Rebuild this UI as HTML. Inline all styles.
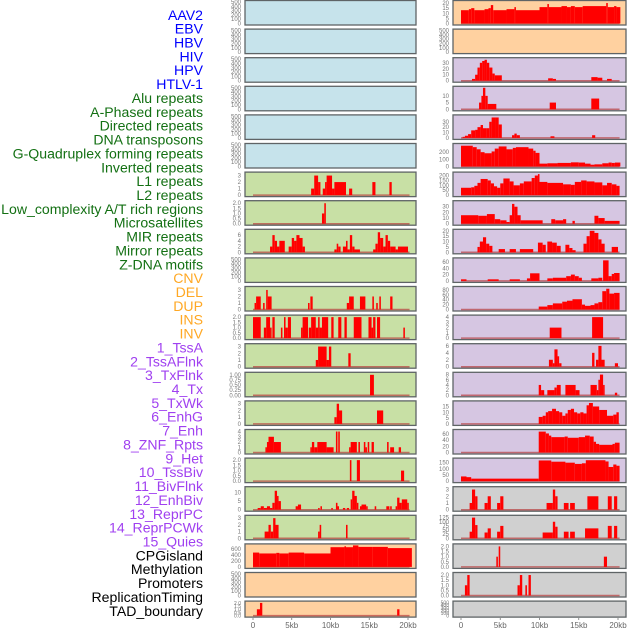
<!DOCTYPE html>
<html><head><meta charset="utf-8"><style>
html,body{margin:0;padding:0;background:#fff;}
svg{display:block;font-family:"Liberation Sans",sans-serif;}
</style></head><body>
<svg id="chart" width="630" height="630" viewBox="0 0 630 630">
<g id="labels"></g>
<g id="panels"></g>
<g id="xaxes"></g>
</svg>
<script>
const trackLabels = ["AAV2","EBV","HBV","HIV","HPV","HTLV-1","Alu repeats","A-Phased repeats","Directed repeats","DNA transposons","G-Quadruplex forming repeats","Inverted repeats","L1 repeats","L2 repeats","Low_complexity A/T rich regions","Microsatellites","MIR repeats","Mirror repeats","Z-DNA motifs","CNV","DEL","DUP","INS","INV","1_TssA","2_TssAFlnk","3_TxFlnk","4_Tx","5_TxWk","6_EnhG","7_Enh","8_ZNF_Rpts","9_Het","10_TssBiv","11_BivFlnk","12_EnhBiv","13_ReprPC","14_ReprPCWk","15_Quies","CPGisland","Methylation","Promoters","ReplicationTiming","TAD_boundary"];
const labelGroups = [6,13,5,15,5];
const xTickLabels = ["0","5kb","10kb","15kb","20kb"];
const xTickValues = [0,5,10,15,20];
const leftBg = ["b","b","b","b","b","b","g","g","g","g","g","g","g","g","g","g","g","g","g","o","o","o"];
const rightBg = ["o","o","p","p","p","p","p","p","p","p","p","p","p","p","p","p","p","g2","g2","g2","g2","g2"];
const leftMax = [500,500,500,500,500,500,3.3,2.1,7.5,500,3.3,2.05,3.2,1.05,3.2,4.1,2.05,12.5,3.2,720,500,2.05];
const rightMax = [21,500,36,16,40,300,220,38,20,68,88,4.1,6.2,8.3,18.5,70,175,3.2,130,2.1,2.1,500];
const leftTicks = [[0,100,200,300,400,500],[0,100,200,300,400,500],[0,100,200,300,400,500],[0,100,200,300,400,500],[0,100,200,300,400,500],[0,100,200,300,400,500],[0,1,2,3],["0.0","0.5","1.0","1.5","2.0"],[0,2,4,6],[0,100,200,300,400,500],[0,1,2,3],["0.0","0.5","1.0","1.5","2.0"],[0,1,2,3],["0.00","0.25","0.50","0.75","1.00"],[0,1,2,3],[0,1,2,3,4],["0.0","0.5","1.0","1.5","2.0"],[0,5,10],[0,1,2,3],[0,200,400,600],[0,100,200,300,400,500],["0.0","0.5","1.0","1.5","2.0"]];
const rightTicks = [[0,5,10,15,20],[0,100,200,300,400,500],[0,10,20,30],[0,5,10],[0,10,20,30],[0,100,200],[0,50,100,150,200],[0,10,20,30],[0,5,10,15,20],[0,20,40,60],[0,20,40,60,80],[0,1,2,3,4],[0,2,4,6],[0,2,4,6,8],[0,5,10,15],[0,20,40,60],[0,50,100,150],[0,1,2,3],[0,25,50,75,100,125],["0.0","0.5","1.0","1.5","2.0"],["0.0","0.5","1.0","1.5","2.0"],[0,100,200,300,400,500]];
// segments [startKb, endKb, value]
const L6=[[7.5,7.9,1],[7.9,8.4,3],[8.4,8.7,2],[9.0,9.3,1],[9.3,9.5,2],[9.5,10.2,3],[10.2,10.5,1],[10.5,12,2],[12.4,12.8,1],[15.4,15.8,2],[17.6,17.9,2]];
const L7=[[8.9,9.2,1],[9.2,9.4,2]];
const L8=[[2.2,2.5,2],[2.5,2.8,6],[2.8,3.1,4],[3.1,3.4,2],[3.4,4.1,4],[4.6,5,2],[5,5.3,5],[5.3,5.6,4],[5.6,6,6],[6,6.4,5],[6.4,6.7,2],[10.5,10.8,1],[10.8,11,3],[11,11.3,2],[11.6,12,2],[12,12.2,4],[12.2,12.5,1],[12.5,12.8,6],[12.8,13.1,2],[13.1,13.8,1],[15.5,15.8,1],[15.8,16.1,3],[16.1,16.4,7],[16.4,16.8,5],[16.8,17.1,2],[17.1,17.4,6],[17.4,17.7,4],[17.7,18.4,2],[18.4,18.7,1],[18.7,20,2]];
const L10=[[0.2,0.4,1],[0.4,1,2],[1.3,1.5,1],[1.7,1.9,3],[1.9,2.4,2],[7.1,7.3,1],[7.4,7.7,2],[12.1,12.4,1],[12.4,13,2],[13.8,14.5,2],[15.4,15.6,2],[15.9,16.1,1],[16.3,16.5,2],[17.7,18,2]];
const L11=[[0,1,2],[1.4,1.7,1],[1.7,2.2,2],[2.2,2.4,1],[2.5,2.8,2],[3.6,3.8,1],[4,4.2,2],[4.2,4.5,1],[4.5,4.9,2],[6.2,6.4,1],[6.4,7.1,2],[7.2,7.5,1],[7.5,8.1,2],[8.1,8.4,1],[8.4,8.6,2],[8.6,8.9,1],[8.9,9.7,2],[10.1,10.4,2],[11,11.4,2],[11.8,12.1,2],[13,14,2],[14.9,15.3,2],[15.3,15.5,1],[15.5,15.8,2],[16,16.4,2],[19.4,19.6,1]];
const L12=[[8.1,8.4,1],[8.4,9.5,3],[9.5,9.8,1],[9.8,10.1,3],[12.3,12.6,2]];
const L13=[[15.1,15.6,1]];
const L14=[[10.5,10.8,1],[10.8,11.1,3],[11.1,11.5,2],[16,16.8,2]];
const L15=[[1.6,1.8,1],[1.8,2.0,2],[2,2.7,3],[2.7,3.6,2],[7.4,7.6,1],[7.6,7.9,2],[7.9,8.3,1],[8.3,9.5,2],[9.5,10.4,1],[10.7,10.9,4],[11.0,11.2,4],[12.4,12.6,1],[12.6,13.4,2],[13.6,13.8,2],[14.3,14.5,2],[14.5,14.7,1],[14.8,15,2],[15.3,15.6,2],[17.3,17.5,2],[17.7,18.2,1],[18.8,19.1,1]];
const L16=[[12.5,12.7,2],[13.4,13.8,2],[19.1,19.5,1]];
const L17=[[0.6,1,1],[1,1.4,2],[1.4,1.8,1],[1.8,2.2,2],[2.2,2.5,1],[2.5,2.8,4],[2.8,3.1,11],[3.1,3.3,8],[3.3,3.6,5],[5.5,5.8,2],[5.8,6.2,3],[8.4,8.6,1],[8.7,8.9,2],[10.1,10.3,1],[10.7,10.9,4],[10.9,11.1,2],[11.6,11.9,1],[12.1,12.4,1],[12.6,12.8,6],[12.8,13.1,11],[13.1,13.4,8],[13.4,13.6,4],[13.8,14,2],[14,14.6,3],[14.6,14.8,2],[15.7,15.9,2],[17.2,17.6,2],[17.7,17.9,2],[18.4,18.6,2],[18.6,18.9,7],[18.9,19.2,4],[19.2,19.9,6],[19.9,20.1,4]];
const L18=[[1.5,2,1],[2,2.3,2],[2.3,2.6,1],[2.6,2.9,3],[2.9,3.3,2],[8.4,8.6,1],[8.6,8.8,2],[12,12.2,2]];
const L19=[[0,0.8,480],[0.8,3,450],[3,3.4,470],[3.4,4.6,450],[4.6,6.6,480],[6.6,10,450],[10,11.8,660],[11.8,12,690],[12,12.9,660],[12.9,13.6,720],[13.6,15.4,670],[15.4,17.4,670],[17.4,20.5,630]];
const L21=[[0.5,0.9,1],[0.9,1.2,2],[18.6,18.9,1]];
const R0=[[0,1,13],[1,1.3,14],[1.3,1.7,15],[1.7,3,13],[3,3.5,14],[3.5,3.8,15],[3.8,4.1,18],[4.1,5.8,13],[5.8,6.8,14],[6.8,7,16],[7,10,13],[10,11,16],[11,11.2,19],[11.2,12.8,16],[12.8,13.5,17],[13.5,14,16],[14,14.5,17],[14.5,15.5,16],[15.5,18.5,17],[18.5,18.7,20],[18.7,19.5,16],[19.5,19.8,17],[19.8,20.3,16]];
const R2=[[1.4,1.8,3],[1.8,2.1,10],[2.1,2.4,22],[2.4,2.7,30],[2.7,3,33],[3,3.3,35],[3.3,3.6,30],[3.6,4,22],[4,4.3,12],[4.3,5.2,9],[11.1,11.7,4],[11.7,12.1,3],[16.6,17.4,6],[17.4,18,5],[18.6,19.2,3]];
const R3=[[2.3,2.6,5],[2.6,2.8,10],[2.8,3.1,16],[3.1,3.4,10],[3.4,4.5,4],[11.3,12.1,5],[16.6,17.6,8]];
const R4=[[0.2,0.5,2],[0.5,0.9,4],[0.9,1.3,7],[1.3,1.8,14],[1.8,2.1,15],[2.1,2.5,20],[2.5,2.8,24],[2.8,3.2,18],[3.2,3.6,18],[3.6,3.9,30],[3.9,4.4,38],[4.4,4.8,38],[4.8,5.2,25],[6.5,6.8,5],[6.8,7.1,8],[7.1,7.5,5],[11.4,11.9,3],[16.7,17.1,5]];
const R5=[[0,1.5,290],[1.5,2,270],[2,2.5,240],[2.5,3,200],[3,3.9,185],[3.9,4.3,210],[4.3,4.8,250],[4.8,5.8,280],[5.8,6.6,240],[6.6,7,260],[7,8.6,270],[8.6,9.2,250],[9.2,9.5,220],[9.5,10,190],[10,11,40],[11,12.3,45],[12.3,14,50],[14,15,58],[15,15.8,55],[15.8,16.5,40],[16.5,17,25],[17,18,30],[18,18.8,45],[18.8,19.2,55],[19.2,19.6,50],[19.6,20.3,55]];
const R6=[[0,1.3,75],[1.3,1.7,80],[1.7,2.1,95],[2.1,2.5,125],[2.5,3.4,165],[3.4,3.8,150],[3.8,4.2,120],[4.2,4.6,90],[4.6,5,75],[5,5.4,120],[5.4,6.2,170],[6.2,6.7,140],[6.7,7.5,100],[7.5,8,120],[8,9,140],[9,9.4,175],[9.4,9.8,200],[9.8,10,215],[10,11,135],[11,13,125],[13,14,110],[14,14.5,105],[14.5,15.3,135],[15.3,16,150],[16,17,140],[17,18,130],[18,18.6,100],[18.6,19.2,125],[19.2,19.8,110],[19.8,20.2,95]];
const R7=[[0,2.2,15],[2.2,3.3,14],[3.3,4.3,17],[4.3,5,8],[5,5.8,6],[5.8,6.2,3],[6.2,6.5,15],[6.5,6.8,35],[6.8,7.2,30],[7.2,7.6,15],[7.6,10.4,6],[11.5,12,8],[12,13,6],[13,13.4,8],[14.2,14.5,5],[17,17.5,14],[17.5,18.3,10],[18.3,20.2,5]];
const R8=[[2.1,2.4,5],[2.4,2.8,10],[2.8,3.2,14],[3.2,3.6,8],[3.6,4,6],[4.8,5.6,3],[6.2,7,3],[7.5,9.2,3],[9.8,10.4,9],[10.4,10.8,7],[11,11.6,10],[11.6,12.2,9],[12.2,12.7,6],[13.3,13.8,7],[13.8,14.2,4],[14.2,14.6,2],[15.6,16,8],[16,16.4,15],[16.4,17,20],[17,17.5,18],[17.5,17.9,12],[17.9,18.3,8],[19.2,20,5]];
const R9=[[0,0.7,5],[3.4,4.8,5],[6.2,7.5,5],[8.4,8.8,8],[8.8,10,24],[11,11.7,8],[11.7,13.4,10],[13.4,14,15],[14,14.5,20],[14.5,15,15],[15,15.4,10],[16.6,17.5,8],[17.5,18,10],[18.1,18.8,65],[18.8,19.2,15],[19.2,19.5,22],[19.5,20.2,25]];
const R10=[[9.9,11,12],[11,11.7,18],[11.7,12.9,25],[12.9,13.5,32],[13.5,14.2,36],[14.2,15.4,42],[15.4,15.8,20],[15.8,16.5,15],[16.5,17,18],[17,17.5,25],[17.5,18,30],[18,18.5,75],[18.5,18.9,85],[18.9,19.5,65],[19.5,20.2,68]];
const R11=[[11.3,12.8,2],[16.7,18.1,4]];
const R12=[[11.2,11.7,2],[11.7,11.9,1],[11.9,12.3,5],[12.3,12.5,3],[12.5,12.8,1],[16.7,17,4],[17.2,17.5,2],[17.5,17.9,6],[17.9,18.3,2],[19.6,20,1]];
const R13=[[9.9,10.2,4],[10.2,10.6,2],[11,11.9,2],[11.9,12.2,3],[12.2,12.7,4],[13.3,14.6,4],[14.6,15.1,2],[16.5,17.3,4],[17.3,17.5,2],[17.5,17.7,6],[17.7,18.1,8],[18.1,18.3,4],[19.6,19.9,1]];
const R14=[[9.9,10.4,6],[10.4,10.8,7],[10.8,11.1,10],[11.1,11.6,11],[11.6,12.1,13],[12.1,12.5,11],[12.5,12.9,10],[12.9,13.3,7],[13.3,13.6,9],[13.6,14,12],[14,14.4,13],[14.4,14.8,10],[14.8,15.2,9],[15.2,15.6,10],[15.6,16,9],[16,16.3,16],[16.3,16.8,18],[16.8,17.6,15],[17.6,18.6,12],[18.6,19.4,7],[19.4,19.8,8],[19.8,20.1,10]];
const R15=[[9.9,10.8,68],[10.8,11.2,62],[11.2,11.5,55],[11.5,13.2,50],[13.2,13.6,52],[13.6,15,48],[15,15.8,50],[15.8,16.4,55],[16.4,16.9,52],[16.9,17.2,35],[17.2,17.6,28],[17.6,19.3,25],[19.3,19.6,28],[19.6,20.2,32]];
const R16=[[0,0.7,38],[0.7,1.3,32],[1.3,9.9,20],[9.9,11.5,168],[11.5,13.3,158],[13.3,14.5,150],[14.5,15.4,140],[15.4,15.9,145],[15.9,18.4,170],[18.4,18.8,160],[18.8,19.4,115],[19.4,19.8,135],[19.8,20.2,125]];
const R17=[[1.1,1.4,1],[1.4,1.8,3],[1.8,2.1,2],[3,3.4,1],[3.4,3.8,2],[4.6,5,1],[5,5.4,2],[10.9,11.7,1],[11.7,12,3],[12,12.3,2],[13.1,13.7,1],[13.9,14.5,1],[16.1,17.5,2],[18.7,19.2,2],[19.5,19.9,2]];
const R18=[[1.1,1.4,40],[1.4,1.8,125],[1.8,2.1,80],[3,3.4,35],[3.4,3.8,60],[4.6,5,40],[5,5.4,75],[10.4,11.7,35],[11.7,12,100],[12,12.3,70],[13.1,13.7,40],[13.9,14.5,40],[15.8,17.5,60],[18.7,19.2,75],[19.5,19.9,75]];
const R19=[[4.5,4.7,1],[4.8,5,2],[18.2,18.6,1]];
const R20=[[0.5,0.8,1],[0.8,1.1,2],[7.2,7.5,1],[7.5,7.8,2],[8.2,8.4,1],[8.6,8.9,2]];
const leftData=[null,null,null,null,null,null,L6,L7,L8,null,L10,L11,L12,L13,L14,L15,L16,L17,L18,L19,null,L21];
const rightData=[R0,null,R2,R3,R4,R5,R6,R7,R8,R9,R10,R11,R12,R13,R14,R15,R16,R17,R18,R19,R20,null];

const NS="http://www.w3.org/2000/svg";
function mk(tag,attrs,parent){const e=document.createElementNS(NS,tag);for(const k in attrs)e.setAttribute(k,attrs[k]);parent.appendChild(e);return e;}
const bgColors={b:"#c6e3eb",g:"#c8e0a5",o:"#ffd1a0",p:"#d6c6e2",g2:"#d0d0d0"};
const labelColors=["#0000ff","#137013","#ffa824","#a040f0","#000000"];
const cols=[{px:245,pw:171,x0:253,x1:408,bg:leftBg,mx:leftMax,tk:leftTicks,data:leftData,name:"left"},{px:453,pw:173,x0:461,x1:618,bg:rightBg,mx:rightMax,tk:rightTicks,data:rightData,name:"right"}];
const rowStep=28.6;

const lg=document.getElementById("labels");
let gi=0,cnt=0;
trackLabels.forEach((t,i)=>{
  while(cnt>=labelGroups[gi]){cnt=0;gi++;}
  cnt++;
  const e=mk("text",{x:203,y:19.8+i*13.86,"text-anchor":"end","font-size":"14.1",fill:labelColors[gi]},lg);
  e.textContent=t;
  
  
});

const pg=document.getElementById("panels");
cols.forEach(c=>{
  const xs=kb=>c.x0+kb*(c.x1-c.x0)/20;
  for(let r=0;r<22;r++){
    const top=r*rowStep+0.5, h=(r===21?16:24.5), bot=top+h;
    const ys=v=>bot-1.5-(v/c.mx[r])*(h-3);
    const g=mk("g",{},pg);
    
    
    const rect=mk("rect",{x:c.px,y:top,width:c.pw,height:h,fill:bgColors[c.bg[r]],stroke:"#5f6466","stroke-width":1.3},g);
    
    
    const d=c.data[r];
    if(d){
      const bl=mk("line",{x1:xs(0),x2:xs(20.2),y1:bot-1.5,y2:bot-1.5,stroke:"#b84040","stroke-width":1.5,opacity:0.7},g);
      
      
      d.forEach(s=>{
        const y=ys(s[2]);
        const b=mk("rect",{x:xs(s[0]),y:y,width:Math.max(0.8,xs(s[1])-xs(s[0])),height:bot-1.5-y,fill:"#ff0000"},g);
        
        
      });
    }
    const ticks=c.tk[r];
    ticks.forEach(t=>{
      const v=parseFloat(t);
      const tt=mk("text",{x:c.px-4,y:ys(v)+2,"text-anchor":"end","font-size":(h<20?"5":"6"),fill:"#777"},g);
      tt.textContent=String(t);
      
      
    });
  }
  const xg=document.getElementById("xaxes");
  xTickValues.forEach((v,i)=>{
    const ln=mk("line",{x1:xs(v),x2:xs(v),y1:618,y2:620,stroke:"#777","stroke-width":0.8},xg);
    
    
    const tx=mk("text",{x:xs(v),y:628,"text-anchor":"middle","font-size":"8",fill:"#666"},xg);
    tx.textContent=xTickLabels[i];
    
    
  });
});
</script>
</body></html>
